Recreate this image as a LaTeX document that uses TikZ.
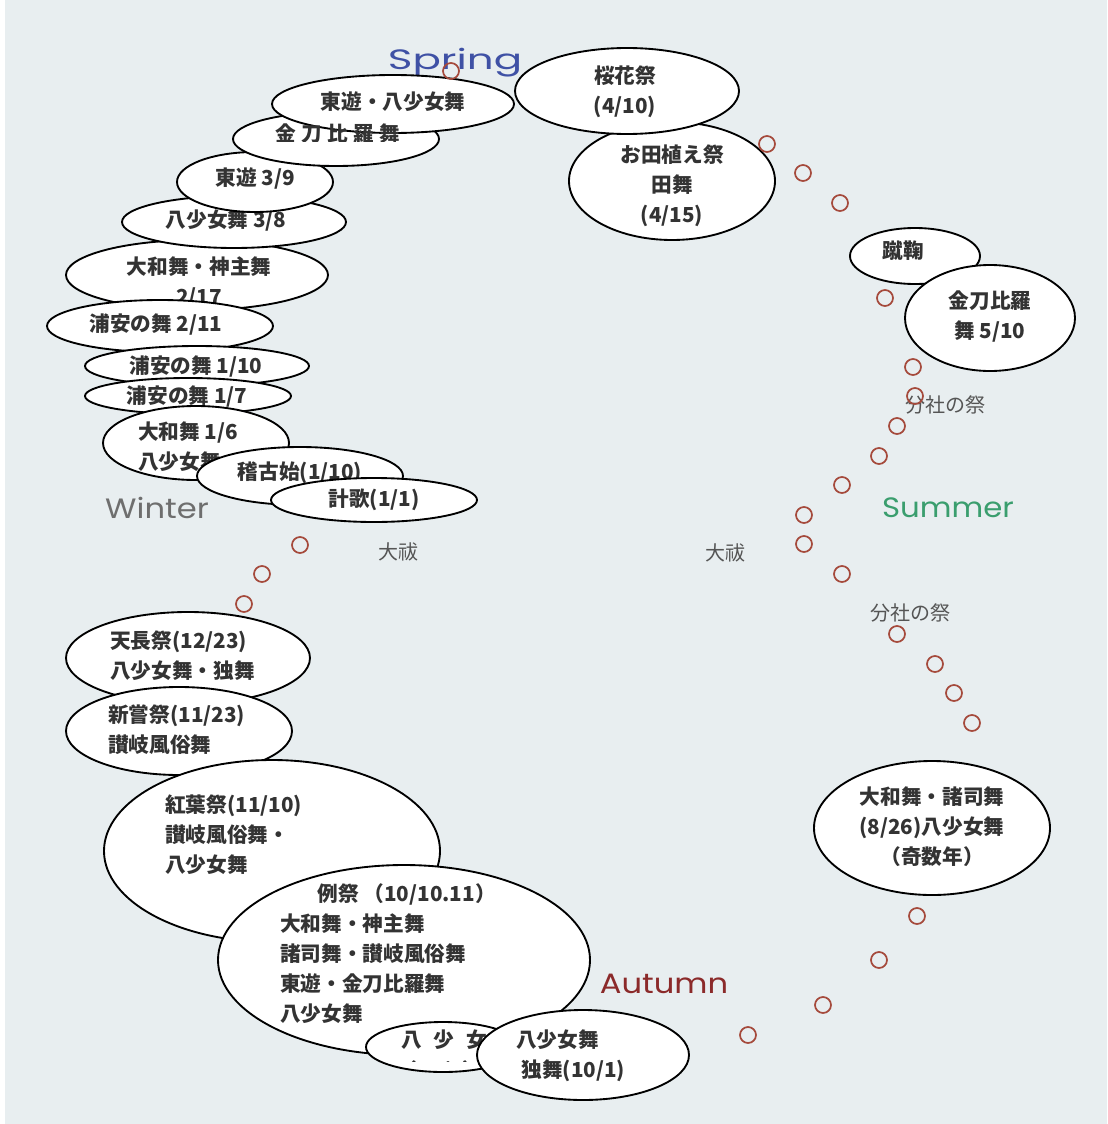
\documentclass[tikz,border=0pt]{standalone}
\usepackage{fontspec}
\setmainfont{Noto Sans CJK JP}
\newfontfamily\seasonfont[FakeStretch=1.15]{Poppins}
\newfontfamily\springfont[FakeStretch=1.5]{Poppins}
\newfontfamily\summerfont[FakeStretch=1.1]{Poppins}
\usetikzlibrary{shapes.geometric}
\definecolor{bg}{HTML}{E8EEF0}
\definecolor{dotred}{HTML}{A54A3C}
\definecolor{springc}{HTML}{3F51A5}
\definecolor{summerc}{HTML}{3A9E6E}
\definecolor{autumnc}{HTML}{8B2A2A}
\definecolor{winterc}{HTML}{6E6E6E}
\definecolor{grayt}{HTML}{555555}
\begin{document}
\begin{tikzpicture}[x=0.75pt,y=-0.75pt,
  ell/.style 2 args={ellipse, draw=black, line width=1.4pt, fill=white,
    minimum width={#1*0.75pt}, minimum height={#2*0.75pt}, inner sep=0pt},
  txt/.style={font=\fontsize{15.5}{22.5}\selectfont\bfseries, inner sep=0pt, align=center, text=black!80},
  txtl/.style={txt, align=left, anchor=west},
  gray label/.style={font=\fontsize{15}{18}\selectfont, inner sep=0pt, text=grayt},
  season/.style={font=\fontsize{21}{24}\selectfont, inner sep=0pt},
  dot/.style={circle, draw=dotred, line width=1.3pt, minimum size=12pt, inner sep=0pt}]
\useasboundingbox (0,0) rectangle (1107,1124);
\fill[bg] (0,0) rectangle (1107,1124);
\fill[white] (0,0) rectangle (5,1124);

% season labels
\node[season, font=\springfont\fontsize{21}{24}\selectfont, text=springc] (spring) at (455,63) {Spring};
\node[season, font=\seasonfont\fontsize{21}{24}\selectfont, text=winterc] (winter) at (157,508) {Winter};
\node[season, font=\summerfont\fontsize{21}{24}\selectfont, text=summerc] (summer) at (948,508) {Summer};
\node[season, font=\seasonfont\fontsize{21}{24}\selectfont, text=autumnc] (autumn) at (664,984) {Autumn};

% gray labels
\node[gray label] (oharae1) at (398,552) {大祓};
\node[gray label] (oharae2) at (725,553) {大祓};
\node[gray label] (bunsha1) at (945,405) {分社の祭};
\node[gray label] (bunsha2) at (910,613) {分社の祭};

% spring (right top)
\node[ell={206}{118}] (taue) at (672,181) {};
\node[txt] (taue-t) at (672,186) {お田植え祭\\田舞\\(4/15)};
\node[ell={224}{86}] (oka) at (627,91) {};
\node[txt] (oka-t) at (625,92) {桜花祭\\(4/10)};

% summer (right)
\node[ell={130}{56}] (kemari) at (915,256) {};
\node[txt] (kemari-t) at (903,251) {蹴鞠};
\node[ell={170}{106}] (kon5) at (990,318) {};
\node[txt] (kon5-t) at (990,317) {金刀比羅\\舞 5/10};
\node[ell={236}{134}] (yamato8) at (932,828) {};
\node[txt] (yamato8-t) at (932,827) {大和舞・諸司舞\\(8/26)八少女舞\\（奇数年）};

% winter cluster (upper left)
\node[ell={262}{70}] (yamato217) at (197,275) {};
\node[txt] (yamato217-t) at (199,283) {大和舞・神主舞\\2/17};
\node[ell={224}{52}] (yao38) at (234,222) {};
\node[txt] (yao38-t) at (226,221) {八少女舞 3/8};
\node[ell={156}{60}] (azuma39) at (255,182) {};
\node[txt] (azuma39-t) at (255,178) {東遊 3/9};
\node[ell={206}{54}] (kon) at (336,139) {};
\node[ell={242}{58}] (azuma) at (393,104) {};
\node[txt] (azuma-t) at (393,102) {東遊・八少女舞};
\begin{scope}
  \clip (230,100) rectangle (450,141);
  \node[txtl] (kon-t) at (275,134) {金\hspace{4pt}刀\hspace{4pt}比\hspace{4pt}羅\hspace{4pt}舞};
\end{scope}
\node[ell={226}{52}] (ura211) at (160,326) {};
\node[txt] (ura211-t) at (156,325) {浦安の舞 2/11};
\node[ell={224}{40}] (ura110) at (197,366) {};
\node[txt] (ura110-t) at (196,367) {浦安の舞 1/10};
\node[ell={206}{36}] (ura17) at (188,396) {};
\node[txt] (ura17-t) at (187,397) {浦安の舞 1/7};
\node[ell={186}{74}] (yamato16) at (196,443) {};
\node[txtl] (yamato16-t) at (138,447) {大和舞 1/6\\八少女舞};
\node[ell={206}{58}] (keiko) at (300,476) {};
\node[txt] (keiko-t) at (300,473) {稽古始(1/10)};
\node[ell={206}{44}] (keika) at (374,500) {};
\node[txt] (keika-t) at (374,500) {計歌(1/1)};

% autumn cluster (lower left)
\node[ell={244}{92}] (tencho) at (188,658) {};
\node[txtl] (tencho-t) at (110,656) {天長祭(12/23)\\八少女舞・独舞};
\node[ell={226}{88}] (niiname) at (179,731) {};
\node[txtl] (niiname-t) at (108,730) {新嘗祭(11/23)\\讃岐風俗舞};
\node[ell={336}{182}] (koyo) at (272,851) {};
\node[txtl] (koyo-t) at (165,835) {紅葉祭(11/10)\\讃岐風俗舞・\\八少女舞};
\node[ell={372}{190}] (reisai) at (404,960) {};
\node[txtl] (reisai-t) at (280,954) {\hspace*{28pt}例祭 （10/10.11）\\大和舞・神主舞\\諸司舞・讃岐風俗舞\\東遊・金刀比羅舞\\八少女舞};
\node[ell={154}{50}] (yaob) at (443,1047) {};
\node[txtl] (yaob-t) at (401,1040) {八\hspace{9pt}少\hspace{9pt}女\hspace{9pt}舞};
\begin{scope}
  \clip (385,1055) rectangle (500,1061);
  \node[txt] (yaob-f) at (440,1071) {（10/1）};
\end{scope}
\node[ell={212}{90}] (yao101) at (583,1055) {};
\node[txtl] (yao101-t) at (516,1056) {八少女舞\\\hspace*{4pt}独舞(10/1)};

% small circles
\foreach \n/\p in {1/{(451,71)},2/{(767,144)},3/{(803,173)},4/{(840,203)},
  5/{(885,298)},6/{(913,367)},7/{(915,396)},8/{(897,426)},9/{(879,456)},
  10/{(842,485)},11/{(804,515)},12/{(804,544)},13/{(842,574)},14/{(897,634)},
  15/{(935,664)},16/{(954,693)},17/{(972,723)},18/{(917,916)},19/{(879,960)},
  20/{(823,1005)},21/{(748,1035)},22/{(300,545)},23/{(262,574)},24/{(244,604)}}
  \node[dot] (c\n) at \p {};
\end{tikzpicture}
\end{document}
